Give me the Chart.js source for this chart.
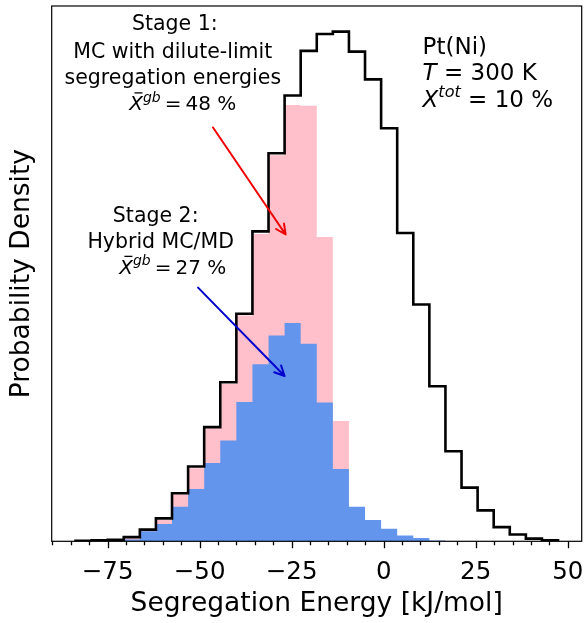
<!DOCTYPE html>
<html>
<head>
<meta charset="utf-8">
<script src="https://cdn.jsdelivr.net/npm/chart.js@4/dist/chart.umd.min.js"></script>
<style>
  html, body { margin: 0; padding: 0; background: #fff; }
</style>
</head>
<body>
<canvas id="hist" width="585" height="623"></canvas>
<script>
// bin edges of the segregation energy histogram [kJ/mol]
var binEdges = [-83.73, -79.36, -74.99, -70.62, -66.25, -61.88, -57.51, -53.14, -48.77, -44.40,
  -40.03, -35.66, -31.29, -26.92, -22.55, -18.18, -13.81, -9.44, -5.07, -0.70,
  3.67, 8.04, 12.41, 16.78, 21.15, 25.52, 29.89, 34.26, 38.63, 43.00, 47.37];

// probability density (x1e-3 per kJ/mol), all GB sites
var allSites = [0.02, 0.04, 0.06, 0.17, 0.48, 0.94, 1.97, 3.07, 4.68, 6.52,
  9.33, 12.71, 15.91, 18.28, 20.11, 20.80, 20.90, 20.08, 18.94, 16.94,
  12.64, 9.71, 6.36, 3.69, 2.20, 1.27, 0.58, 0.28, 0.11, 0.04];

// occupied sites, stage 1 (MC, dilute-limit energies)
var stage1 = [0, 0, 0.02, 0.12, 0.45, 0.87, 1.93, 3.00, 4.64, 6.45,
  9.26, 12.60, 15.83, 17.89, 17.86, 12.48, 4.93, 1.20, 0.60, 0.30,
  0.10, 0.05, 0, 0, 0, 0, 0, 0, 0, 0];

// occupied sites, stage 2 (hybrid MC/MD)
var stage2 = [0, 0, 0.02, 0.07, 0.41, 0.71, 1.42, 2.14, 3.21, 4.13,
  5.71, 7.26, 8.44, 8.95, 8.10, 5.69, 2.96, 1.42, 0.87, 0.51,
  0.24, 0.14, 0.03, 0, 0, 0, 0, 0, 0, 0];

var xTicks = [-75, -50, -25, 0, 25, 50];

var FONT = '"DejaVu Sans", "Liberation Sans", sans-serif';

// histogram outline as points for a stepped line
function stepPoints(values) {
  var n = values.length;
  var pts = [{ x: binEdges[0], y: 0 }];
  for (var i = 0; i < n; i++) pts.push({ x: binEdges[i], y: values[i] });
  pts.push({ x: binEdges[n], y: values[n - 1] });
  pts.push({ x: binEdges[n], y: 0 });
  return pts;
}

function runFont(part, size) {
  var s = part.sup ? size * 0.7 : size;
  return (part.italic ? 'italic ' : '') + s + 'px ' + FONT;
}

// draw a line of text made of plain / italic / superscript runs
function drawRuns(ctx, parts, x, y, size, align) {
  var widths = parts.map(function (p) {
    ctx.font = runFont(p, size);
    return ctx.measureText(p.text).width;
  });
  var total = widths.reduce(function (a, b) { return a + b; }, 0);
  var cx = align === 'center' ? x - total / 2 : x;
  ctx.textAlign = 'left';
  ctx.textBaseline = 'alphabetic';
  parts.forEach(function (p, i) {
    ctx.font = runFont(p, size);
    var dy = p.sup ? -0.42 * size : 0;
    ctx.fillText(p.text, cx, y + dy);
    if (p.bar) {
      ctx.save();
      ctx.lineWidth = size * 0.065;
      ctx.strokeStyle = ctx.fillStyle;
      ctx.beginPath();
      ctx.moveTo(cx + size * 0.26, y - size * 0.86);
      ctx.lineTo(cx + size * 0.66, y - size * 0.86);
      ctx.stroke();
      ctx.restore();
    }
    cx += widths[i];
  });
}

function drawArrow(ctx, x0, y0, x1, y1, color) {
  var ang = Math.atan2(y1 - y0, x1 - x0);
  var len = 11, half = 0.45;
  ctx.save();
  ctx.strokeStyle = color;
  ctx.lineWidth = 2;
  ctx.lineCap = 'round';
  ctx.lineJoin = 'round';
  ctx.beginPath();
  ctx.moveTo(x0, y0);
  ctx.lineTo(x1, y1);
  ctx.moveTo(x1 - len * Math.cos(ang - half), y1 - len * Math.sin(ang - half));
  ctx.lineTo(x1, y1);
  ctx.lineTo(x1 - len * Math.cos(ang + half), y1 - len * Math.sin(ang + half));
  ctx.stroke();
  ctx.restore();
}

var stage1Lines = [
  [{ text: 'Stage 1:' }],
  [{ text: 'MC with dilute-limit' }],
  [{ text: 'segregation energies' }],
  [{ text: 'X', italic: true, bar: true }, { text: 'gb', italic: true, sup: true }, { text: '\u2009=\u200948 %' }]
];
var stage2Lines = [
  [{ text: 'Stage 2:' }],
  [{ text: 'Hybrid MC/MD' }],
  [{ text: 'X', italic: true, bar: true }, { text: 'gb', italic: true, sup: true }, { text: '\u2009=\u200927 %' }]
];
var systemLines = [
  [{ text: 'Pt(Ni)' }],
  [{ text: 'T', italic: true }, { text: ' = 300 K' }],
  [{ text: 'X', italic: true }, { text: 'tot', italic: true, sup: true }, { text: ' = 10 %' }]
];

var overlay = {
  id: 'overlay',
  afterDatasetsDraw: function (chart) {
    var ctx = chart.ctx, a = chart.chartArea;
    var xs = chart.scales.x, ys = chart.scales.y;
    ctx.save();

    // frame
    ctx.strokeStyle = '#000';
    ctx.lineWidth = 1.2;
    ctx.strokeRect(a.left, a.top, a.right - a.left, a.bottom - a.top);

    // major and minor ticks along the bottom
    ctx.lineWidth = 1.3;
    ctx.beginPath();
    for (var v = Math.ceil(xs.min / 5) * 5; v <= xs.max; v += 5) {
      var px = Math.round(xs.getPixelForValue(v)) + 0.5;
      var len = xTicks.indexOf(v) >= 0 ? 7 : 4;
      ctx.moveTo(px, a.bottom);
      ctx.lineTo(px, a.bottom + len);
    }
    ctx.stroke();

    ctx.fillStyle = '#000';
    var s1x = xs.getPixelForValue(-57.3), s1y = ys.getPixelForValue(20.88);
    drawRuns(ctx, stage1Lines[0], s1x + 2, s1y - 2, 20.5, 'center');
    drawRuns(ctx, stage1Lines[1], s1x, s1y + 26, 20.5, 'center');
    drawRuns(ctx, stage1Lines[2], s1x, s1y + 51.5, 20.5, 'center');
    drawRuns(ctx, stage1Lines[3], s1x + 10, s1y + 78, 20, 'center');

    var s2x = xs.getPixelForValue(-61.4), s2y = ys.getPixelForValue(13.09);
    drawRuns(ctx, stage2Lines[0], s2x - 2, s2y, 20.5, 'center');
    drawRuns(ctx, stage2Lines[1], s2x + 3, s2y + 25.5, 20.5, 'center');
    drawRuns(ctx, stage2Lines[2], s2x + 15, s2y + 51.5, 20, 'center');

    var tx = xs.getPixelForValue(10.57), ty = ys.getPixelForValue(20.0);
    systemLines.forEach(function (line, i) {
      drawRuns(ctx, line, tx, ty + i * 26.7, 23, 'left');
    });

    drawArrow(ctx, xs.getPixelForValue(-46.37), ys.getPixelForValue(16.97),
      xs.getPixelForValue(-26.65), ys.getPixelForValue(12.58), '#f00000');
    drawArrow(ctx, xs.getPixelForValue(-50.43), ys.getPixelForValue(10.40),
      xs.getPixelForValue(-26.92), ys.getPixelForValue(6.78), '#0000cd');

    ctx.restore();
  }
};

new Chart(document.getElementById('hist'), {
  type: 'line',
  data: {
    datasets: [
      {
        label: 'All GB sites',
        data: stepPoints(allSites),
        stepped: 'before',
        borderColor: '#000',
        borderWidth: 2.6,
        fill: false,
        order: 0
      },
      {
        label: 'Stage 2',
        data: stepPoints(stage2),
        stepped: 'before',
        borderWidth: 0,
        borderColor: 'rgba(0,0,0,0)',
        backgroundColor: '#6495ed',
        fill: 'origin',
        order: 1
      },
      {
        label: 'Stage 1',
        data: stepPoints(stage1),
        stepped: 'before',
        borderWidth: 0,
        borderColor: 'rgba(0,0,0,0)',
        backgroundColor: '#ffc0cb',
        fill: 'origin',
        order: 2
      }
    ]
  },
  options: {
    responsive: false,
    animation: false,
    devicePixelRatio: 1,
    elements: { point: { radius: 0 }, line: { tension: 0 } },
    layout: { padding: { left: 0, top: 6, right: 3.3, bottom: 0 } },
    plugins: {
      legend: { display: false },
      tooltip: { enabled: false }
    },
    scales: {
      x: {
        type: 'linear',
        min: -90.2,
        max: 53.8,
        afterBuildTicks: function (scale) {
          scale.ticks = xTicks.map(function (v) { return { value: v }; });
        },
        grid: { display: true, drawOnChartArea: false, drawTicks: true, tickLength: 20, tickColor: 'rgba(0,0,0,0)' },
        border: { display: false },
        ticks: {
          padding: -3,
          color: '#000',
          maxRotation: 0,
          font: { family: FONT, size: 24.5 },
          callback: function (v) { return v < 0 ? '\u2212' + Math.abs(v) : String(v); }
        },
        title: {
          display: true,
          text: 'Segregation Energy [kJ/mol]',
          color: '#000',
          font: { family: FONT, size: 26.5 },
          padding: { top: 3.5, bottom: 3 }
        }
      },
      y: {
        min: 0,
        max: 21.95,
        grid: { display: false, drawTicks: false },
        border: { display: false },
        ticks: { display: false },
        title: {
          display: true,
          text: 'Probability Density',
          color: '#000',
          font: { family: FONT, size: 26.5 },
          padding: { top: 5.8, bottom: 14.1 }
        }
      }
    }
  },
  plugins: [overlay]
});
</script>
</body>
</html>
